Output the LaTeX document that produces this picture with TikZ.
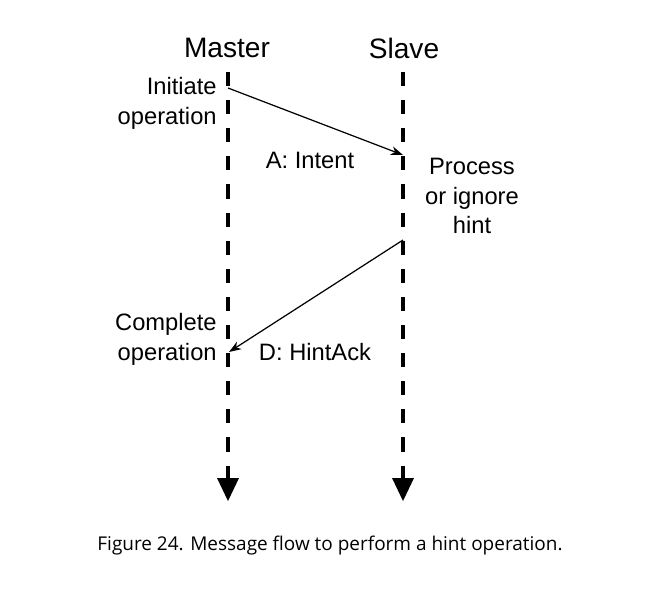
\documentclass[tikz,border=0pt]{standalone}
\usepackage{fontspec}
\usetikzlibrary{arrows.meta}
\setmainfont{Liberation Sans}
\newfontfamily\capfont{Open Sans}
\begin{document}
\begin{tikzpicture}[x=0.02cm,y=-0.02cm,
  life/.style={line width=1.9pt, dash pattern=on 8pt off 8pt},
  tip/.style={fill=black},
  lbl/.style={font=\fontsize{13.5}{17}\selectfont, inner sep=0pt},
  ttl/.style={font=\fontsize{16}{19}\selectfont, inner sep=0pt},
  msg/.style={line width=0.7pt,-{Stealth[length=7pt,width=5pt]}}]
\useasboundingbox (0,0) rectangle (658,613);
\node[ttl] (m) at (227,48) {Master};
\node[ttl] (s) at (404,48) {Slave};
\coordinate (mt) at (228,72); \coordinate (mb) at (228,478);
\coordinate (st) at (403,72); \coordinate (sb) at (403,478);
\draw[life] (mt) -- (mb);
\draw[life] (st) -- (sb);
\fill[tip] (217,478) -- (239,478) -- (228,501) -- cycle;
\fill[tip] (392,478) -- (414,478) -- (403,501) -- cycle;
\coordinate (a1) at (228,88); \coordinate (a2) at (403,155);
\coordinate (d1) at (403,240); \coordinate (d2) at (229,352);
\draw[msg] (a1) -- (a2);
\draw[msg] (d1) -- (d2);
\node[lbl, anchor=east, align=right] (init) at (217,103) {Initiate\\operation};
\node[lbl] (ai) at (310,160) {A: Intent};
\node[lbl, align=center] (proc) at (472,196) {Process\\or ignore\\hint};
\node[lbl, anchor=east, align=right] (comp) at (217,339) {Complete\\operation};
\node[lbl] (dh) at (315,352) {D: HintAck};
\node[font=\capfont\fontsize{10.8}{14}\selectfont, inner sep=0pt] (cap) at (330,546) {Figure 24. Message flow to perform a hint operation.};
\end{tikzpicture}
\end{document}
